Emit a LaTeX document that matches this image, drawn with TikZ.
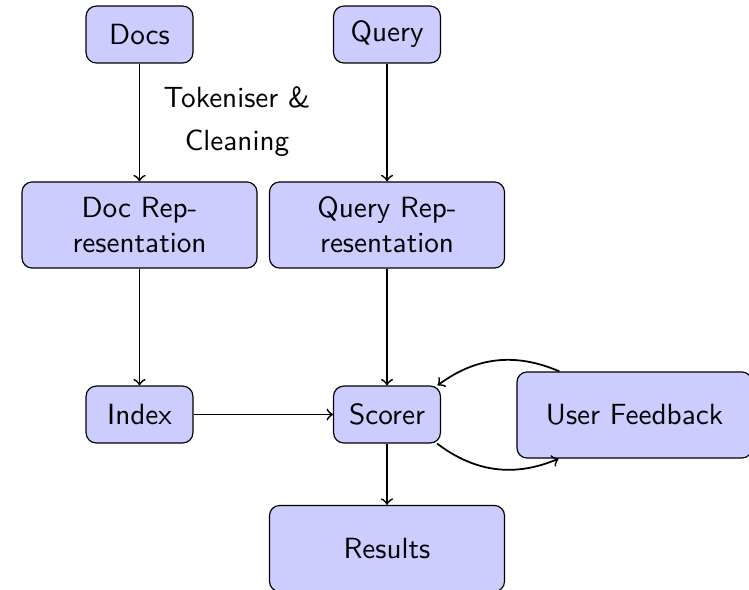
\documentclass[tikz,border=0pt]{standalone}
\renewcommand{\familydefault}{\sfdefault}
\begin{document}
\begin{tikzpicture}[x=0.3425pt, y=-0.3425pt,
  box/.style={draw, fill=blue!20, rounded corners=3.5pt, align=center, inner sep=0pt},
  smallbox/.style={box, minimum width=36.6pt, minimum height=19.5pt},
  bigbox/.style={box, minimum width=80.5pt, minimum height=29.5pt},
  link/.style={->, semithick}]
  \useasboundingbox (0,0) rectangle (749,589);

  \node[smallbox] (docs)     at (139.5,34.5) {Docs};
  \node[smallbox] (query)    at (387,34.5)   {Query};
  \node[bigbox]   (docrep)   at (139.5,225)  {Doc Rep-\\resentation};
  \node[bigbox]   (queryrep) at (387,225)    {Query Rep-\\resentation};
  \node[smallbox] (index)    at (139.5,414.5){Index};
  \node[smallbox] (scorer)   at (387,414.5)  {Scorer};
  \node[bigbox]   (feedback) at (634.5,415)  {User Feedback};
  \node[bigbox]   (results)  at (387,548.5)  {Results};

  \node[align=center] (clean) at (237,121.5) {Tokeniser \&\\[2.7pt]Cleaning};

  \draw[link] (docs) -- (docrep);
  \draw[link] (query) -- (queryrep);
  \draw[link] (docrep) -- (index);
  \draw[link] (queryrep) -- (scorer);
  \draw[link] (index) -- (scorer);
  \draw[link] (scorer) -- (results);
  \draw[link] (feedback) to[bend right] (scorer);
  \draw[link] (scorer) to[bend right] (feedback);
\end{tikzpicture}
\end{document}
